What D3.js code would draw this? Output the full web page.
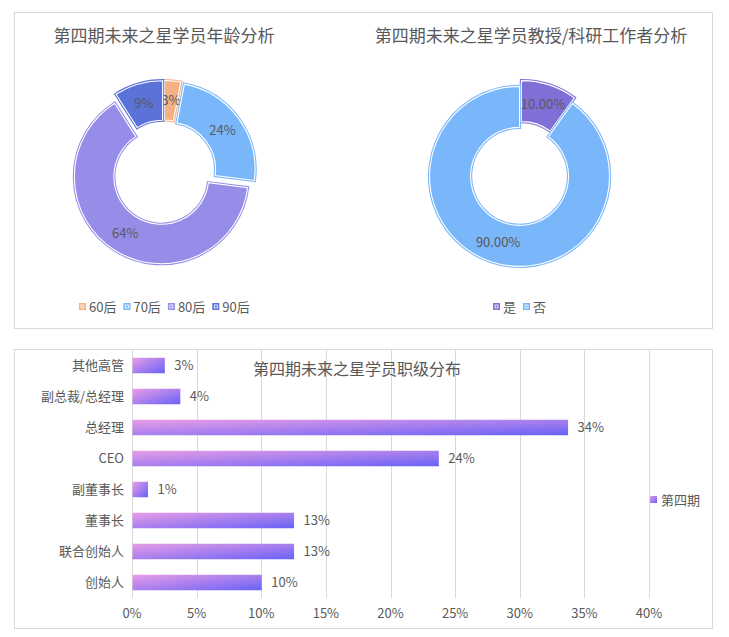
<!DOCTYPE html>
<html>
<head>
<meta charset="utf-8">
<script src="https://cdn.jsdelivr.net/npm/d3@7"></script>
<style>
  body { margin: 0; background: #fff; }
  svg text { font-family: "Microsoft YaHei", "Noto Sans CJK SC", sans-serif; fill: #595959; }
</style>
</head>
<body>
<div id="chart"></div>
<script>
// data
const ageCats = ["60后", "70后", "80后", "90后"];
const ageVals = [3, 24, 64, 9];
const ageColors = ["#f4b183", "#79b6fa", "#968de8", "#5b72d8"];

const profCats = ["是", "否"];
const profVals = [10, 90];
const profColors = ["#7f6fd6", "#79b6fa"];

const levelCats = ["其他高管", "副总裁/总经理", "总经理", "CEO", "副董事长", "董事长", "联合创始人", "创始人"];
const levelVals = [2.5, 3.7, 33.7, 23.7, 1.2, 12.5, 12.5, 10.0];
const xTicks = [0, 5, 10, 15, 20, 25, 30, 35, 40];

const w = 729, h = 637;

let svg = d3.select("#chart").append("svg")
  .attr("width", w)
  .attr("height", h);

// gradient for bars
let defs = svg.append("defs");
let grad = defs.append("linearGradient")
  .attr("id", "barGrad")
  .attr("x1", 0).attr("y1", 0).attr("x2", 1).attr("y2", 1);
grad.append("stop").attr("offset", "0%").attr("stop-color", "#e99de6");
grad.append("stop").attr("offset", "100%").attr("stop-color", "#6862f6");

// panels
svg.append("rect").attr("x", 14.5).attr("y", 12.5).attr("width", 698).attr("height", 316)
  .attr("fill", "none").attr("stroke", "#d9d9d9");
svg.append("rect").attr("x", 14.5).attr("y", 349.5).attr("width", 698).attr("height", 279)
  .attr("fill", "none").attr("stroke", "#d9d9d9");

// donut helper
function donut(cx, cy, r0, r1, explode, vals, colors, fmt) {
  let pie = d3.pie().sort(null)(vals);
  let arc = d3.arc().innerRadius(r0).outerRadius(r1);
  let g = svg.append("g").attr("transform", "translate(" + cx + "," + cy + ")");

  let slice = g.selectAll("g.slice")
    .data(pie)
    .enter().append("g")
    .attr("transform", function(d) {
      let a = (d.startAngle + d.endAngle) / 2;
      return "translate(" + (Math.sin(a) * explode) + "," + (-Math.cos(a) * explode) + ")";
    });

  slice.append("path")
    .attr("d", arc)
    .attr("fill", (d, i) => colors[i])
    .attr("stroke", (d, i) => colors[i])
    .attr("stroke-width", 3.2)
    .attr("stroke-linejoin", "miter");
  slice.append("path")
    .attr("d", arc)
    .attr("fill", "none")
    .attr("stroke", "#fff")
    .attr("stroke-width", 1.1);

  slice.append("text")
    .attr("transform", d => "translate(" + arc.centroid(d) + ")")
    .attr("text-anchor", "middle")
    .attr("dy", "0.35em")
    .style("font-size", "13px")
    .text(d => fmt(d.data));
}

donut(164, 172.5, 47.5, 87, 5, ageVals, ageColors, v => v + "%");
donut(520.5, 173.5, 49, 90, 3, profVals, profColors, v => v.toFixed(2) + "%");

// titles
svg.append("text").attr("x", 164).attr("y", 42).attr("text-anchor", "middle")
  .style("font-size", "17px").text("第四期未来之星学员年龄分析");
svg.append("text").attr("x", 531).attr("y", 42).attr("text-anchor", "middle")
  .style("font-size", "17px").text("第四期未来之星学员教授/科研工作者分析");

// legends for donuts
function legend(x0, y, cats, colors) {
  let x = x0;
  cats.forEach(function(c, i) {
    svg.append("rect").attr("x", x + 0.5).attr("y", y - 3.5).attr("width", 6).attr("height", 6)
      .attr("fill", colors[i]).attr("stroke", colors[i]);
    svg.append("rect").attr("x", x + 2).attr("y", y - 2).attr("width", 3).attr("height", 3)
      .attr("fill", "none").attr("stroke", "#fff").attr("stroke-width", 0.8);
    let t = svg.append("text").attr("x", x + 10).attr("y", y).attr("dy", "0.35em")
      .style("font-size", "13px").text(c);
    x += 10 + t.node().getComputedTextLength() + 7;
  });
}
legend(79, 307, ageCats, ageColors);
legend(493, 307, profCats, profColors);

// bar chart
let x = d3.scaleLinear().domain([0, 40]).range([132, 649]);
let y = d3.scaleBand().domain(levelCats).range([350, 598]).paddingInner(0.5).paddingOuter(0.25);

svg.append("g").selectAll("line")
  .data(xTicks)
  .enter().append("line")
  .attr("x1", d => Math.round(x(d)) + 0.5)
  .attr("x2", d => Math.round(x(d)) + 0.5)
  .attr("y1", 350)
  .attr("y2", 598)
  .attr("stroke", "#d9d9d9");

svg.append("g").selectAll("text")
  .data(xTicks)
  .enter().append("text")
  .attr("x", d => x(d))
  .attr("y", 613)
  .attr("dy", "0.35em")
  .attr("text-anchor", "middle")
  .style("font-size", "13px")
  .text(d => d + "%");

svg.append("text").attr("x", 357).attr("y", 369).attr("dy", "0.35em").attr("text-anchor", "middle")
  .style("font-size", "16px").text("第四期未来之星学员职级分布");

svg.append("g").selectAll("rect")
  .data(levelVals)
  .enter().append("rect")
  .attr("x", x(0) + 0.5)
  .attr("y", (d, i) => y(levelCats[i]))
  .attr("width", d => x(d) - x(0))
  .attr("height", y.bandwidth())
  .attr("fill", "url(#barGrad)");

svg.append("g").selectAll("text")
  .data(levelVals)
  .enter().append("text")
  .attr("x", d => x(d) + 10)
  .attr("y", (d, i) => y(levelCats[i]) + y.bandwidth() / 2)
  .attr("dy", "0.35em")
  .style("font-size", "13px")
  .text(d => Math.round(d) + "%");

svg.append("g").selectAll("text")
  .data(levelCats)
  .enter().append("text")
  .attr("x", 124)
  .attr("y", d => y(d) + y.bandwidth() / 2)
  .attr("dy", "0.35em")
  .attr("text-anchor", "end")
  .style("font-size", "13px")
  .text(d => d);

// series legend
svg.append("rect").attr("x", 650).attr("y", 496).attr("width", 7).attr("height", 7)
  .attr("fill", "url(#barGrad)");
svg.append("text").attr("x", 661).attr("y", 500).attr("dy", "0.35em")
  .style("font-size", "13px").text("第四期");
</script>
</body>
</html>
